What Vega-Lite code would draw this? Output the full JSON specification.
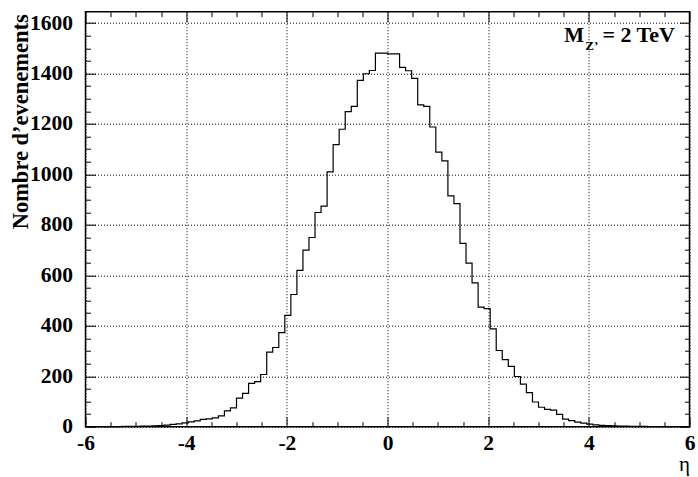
{
  "$schema": "https://vega.github.io/schema/vega-lite/v6.json",
  "width": 604,
  "height": 415,
  "autosize": {"type": "none"},
  "padding": {"left": 85.5, "top": 11.7, "right": 8.5, "bottom": 50.3},
  "background": "white",
  "config": {
    "view": {"stroke": "black", "strokeWidth": 1.5},
    "font": "Liberation Serif",
    "axis": {"tickColor": "black", "tickWidth": 1, "labelColor": "black", "titleColor": "black"}
  },
  "data": {
    "values": [
      {"x": -6.00, "n": 0}, {"x": -5.88, "n": 0}, {"x": -5.76, "n": 0}, {"x": -5.64, "n": 0},
      {"x": -5.52, "n": 0}, {"x": -5.40, "n": 0}, {"x": -5.28, "n": 1}, {"x": -5.16, "n": 1},
      {"x": -5.04, "n": 1}, {"x": -4.92, "n": 2}, {"x": -4.80, "n": 2}, {"x": -4.68, "n": 3},
      {"x": -4.56, "n": 4}, {"x": -4.44, "n": 6}, {"x": -4.32, "n": 9}, {"x": -4.20, "n": 11},
      {"x": -4.08, "n": 15}, {"x": -3.96, "n": 19}, {"x": -3.84, "n": 23}, {"x": -3.72, "n": 29},
      {"x": -3.60, "n": 31}, {"x": -3.48, "n": 35}, {"x": -3.36, "n": 43}, {"x": -3.24, "n": 63},
      {"x": -3.12, "n": 75}, {"x": -3.00, "n": 113}, {"x": -2.88, "n": 132}, {"x": -2.76, "n": 172},
      {"x": -2.64, "n": 179}, {"x": -2.52, "n": 207}, {"x": -2.40, "n": 296}, {"x": -2.28, "n": 314},
      {"x": -2.16, "n": 373}, {"x": -2.04, "n": 441}, {"x": -1.92, "n": 524}, {"x": -1.80, "n": 620},
      {"x": -1.68, "n": 700}, {"x": -1.56, "n": 750}, {"x": -1.44, "n": 849}, {"x": -1.32, "n": 874},
      {"x": -1.20, "n": 1010}, {"x": -1.08, "n": 1118}, {"x": -0.96, "n": 1179}, {"x": -0.84, "n": 1249},
      {"x": -0.72, "n": 1270}, {"x": -0.60, "n": 1373}, {"x": -0.48, "n": 1399}, {"x": -0.36, "n": 1412},
      {"x": -0.24, "n": 1481}, {"x": -0.12, "n": 1481}, {"x": 0.00, "n": 1478}, {"x": 0.12, "n": 1478},
      {"x": 0.24, "n": 1424}, {"x": 0.36, "n": 1411}, {"x": 0.48, "n": 1381}, {"x": 0.60, "n": 1276},
      {"x": 0.72, "n": 1270}, {"x": 0.84, "n": 1188}, {"x": 0.96, "n": 1088}, {"x": 1.08, "n": 1054},
      {"x": 1.20, "n": 915}, {"x": 1.32, "n": 884}, {"x": 1.44, "n": 727}, {"x": 1.56, "n": 648},
      {"x": 1.68, "n": 570}, {"x": 1.80, "n": 474}, {"x": 1.92, "n": 468}, {"x": 2.04, "n": 388},
      {"x": 2.16, "n": 302}, {"x": 2.28, "n": 266}, {"x": 2.40, "n": 239}, {"x": 2.52, "n": 199},
      {"x": 2.64, "n": 169}, {"x": 2.76, "n": 135}, {"x": 2.88, "n": 98}, {"x": 3.00, "n": 77},
      {"x": 3.12, "n": 69}, {"x": 3.24, "n": 66}, {"x": 3.36, "n": 49}, {"x": 3.48, "n": 30},
      {"x": 3.60, "n": 24}, {"x": 3.72, "n": 18}, {"x": 3.84, "n": 14}, {"x": 3.96, "n": 10},
      {"x": 4.08, "n": 7}, {"x": 4.20, "n": 5}, {"x": 4.32, "n": 4}, {"x": 4.44, "n": 3},
      {"x": 4.56, "n": 2}, {"x": 4.68, "n": 2}, {"x": 4.80, "n": 1}, {"x": 4.92, "n": 1},
      {"x": 5.04, "n": 1}, {"x": 5.16, "n": 0}, {"x": 5.28, "n": 0}, {"x": 5.40, "n": 0},
      {"x": 5.52, "n": 0}, {"x": 5.64, "n": 0}, {"x": 5.76, "n": 0}, {"x": 5.88, "n": 0},
      {"x": 6.00, "n": 0}
    ]
  },
  "resolve": {"axis": {"x": "independent", "y": "independent"}},
  "layer": [
    {
      "mark": {"type": "line", "interpolate": "step-after", "color": "black", "strokeWidth": 1.2},
      "encoding": {
        "x": {
          "field": "x", "type": "quantitative",
          "scale": {"domain": [-6, 6], "nice": false, "zero": false},
          "axis": {
            "orient": "bottom", "values": [-6, -4, -2, 0, 2, 4, 6],
            "ticks": false, "domain": false,
            "grid": true, "gridColor": "black", "gridDash": [1, 2], "gridWidth": 1, "gridOpacity": 1,
            "labelFont": "Liberation Serif", "labelFontWeight": "bold", "labelFontSize": 21.5,
            "labelPadding": 6, "labelFlush": false, "labelOverlap": false,
            "labelExpr": "'' + datum.value",
            "title": "η", "titleFont": "Liberation Serif", "titleFontWeight": "normal", "titleFontSize": 21,
            "titleAnchor": "end", "titleAlign": "right", "titleBaseline": "alphabetic",
            "titleX": 604, "titleY": 44
          }
        },
        "y": {
          "field": "n", "type": "quantitative",
          "scale": {"domain": [0, 1645], "nice": false, "zero": true},
          "axis": {
            "orient": "left", "values": [0, 200, 400, 600, 800, 1000, 1200, 1400, 1600],
            "ticks": false, "domain": false,
            "grid": true, "gridColor": "black", "gridDash": [1, 2], "gridWidth": 1, "gridOpacity": 1,
            "labelFont": "Liberation Serif", "labelFontWeight": "bold", "labelFontSize": 21.5,
            "labelPadding": 13, "labelFlush": false, "labelOverlap": false,
            "labelExpr": "'' + datum.value",
            "title": "Nombre d’evenements", "titleFont": "Liberation Serif", "titleFontWeight": "bold", "titleFontSize": 22.5,
            "titleAngle": -90, "titleAnchor": "end", "titleAlign": "right", "titleBaseline": "alphabetic",
            "titleX": -58, "titleY": 2
          }
        }
      }
    },
    {
      "mark": {"type": "point", "opacity": 0},
      "encoding": {
        "x": {"field": "x", "type": "quantitative",
          "axis": {"orient": "bottom", "values": [-6, -4, -2, 0, 2, 4, 6], "tickSize": -10, "labels": false, "domain": false, "grid": false, "title": null}},
        "y": {"field": "n", "type": "quantitative",
          "axis": {"orient": "left", "values": [0, 200, 400, 600, 800, 1000, 1200, 1400, 1600], "tickSize": -10, "labels": false, "domain": false, "grid": false, "title": null}}
      }
    },
    {
      "mark": {"type": "point", "opacity": 0},
      "encoding": {
        "x": {"field": "x", "type": "quantitative",
          "axis": {"orient": "bottom", "values": [-5.5, -5, -4.5, -3.5, -3, -2.5, -1.5, -1, -0.5, 0.5, 1, 1.5, 2.5, 3, 3.5, 4.5, 5, 5.5], "tickSize": -5, "labels": false, "domain": false, "grid": false, "title": null}},
        "y": {"field": "n", "type": "quantitative",
          "axis": {"orient": "left", "values": [50, 100, 150, 250, 300, 350, 450, 500, 550, 650, 700, 750, 850, 900, 950, 1050, 1100, 1150, 1250, 1300, 1350, 1450, 1500, 1550], "tickSize": -5, "labels": false, "domain": false, "grid": false, "title": null}}
      }
    },
    {
      "mark": {"type": "point", "opacity": 0},
      "encoding": {
        "x": {"field": "x", "type": "quantitative",
          "axis": {"orient": "top", "values": [-6, -4, -2, 0, 2, 4, 6], "tickSize": -10, "labels": false, "domain": false, "grid": false, "title": null}},
        "y": {"field": "n", "type": "quantitative",
          "axis": {"orient": "right", "values": [0, 200, 400, 600, 800, 1000, 1200, 1400, 1600], "tickSize": -10, "labels": false, "domain": false, "grid": false, "title": null}}
      }
    },
    {
      "mark": {"type": "point", "opacity": 0},
      "encoding": {
        "x": {"field": "x", "type": "quantitative",
          "axis": {"orient": "top", "values": [-5.5, -5, -4.5, -3.5, -3, -2.5, -1.5, -1, -0.5, 0.5, 1, 1.5, 2.5, 3, 3.5, 4.5, 5, 5.5], "tickSize": -5, "labels": false, "domain": false, "grid": false, "title": null}},
        "y": {"field": "n", "type": "quantitative",
          "axis": {"orient": "right", "values": [50, 100, 150, 250, 300, 350, 450, 500, 550, 650, 700, 750, 850, 900, 950, 1050, 1100, 1150, 1250, 1300, 1350, 1450, 1500, 1550], "tickSize": -5, "labels": false, "domain": false, "grid": false, "title": null}}
      }
    },
    {
      "data": {"values": [{"t": "M"}]},
      "mark": {"type": "text", "align": "left", "baseline": "alphabetic", "font": "Liberation Serif", "fontWeight": "bold", "fontSize": 21, "color": "black"},
      "encoding": {
        "x": {"datum": 3.513, "type": "quantitative", "axis": null},
        "y": {"datum": 1525, "type": "quantitative", "axis": null},
        "text": {"field": "t"}
      }
    },
    {
      "data": {"values": [{"t": "Z’"}]},
      "mark": {"type": "text", "align": "left", "baseline": "alphabetic", "font": "Liberation Serif", "fontWeight": "bold", "fontSize": 13, "color": "black"},
      "encoding": {
        "x": {"datum": 3.93, "type": "quantitative", "axis": null},
        "y": {"datum": 1492, "type": "quantitative", "axis": null},
        "text": {"field": "t"}
      }
    },
    {
      "data": {"values": [{"t": "= 2 TeV"}]},
      "mark": {"type": "text", "align": "left", "baseline": "alphabetic", "font": "Liberation Serif", "fontWeight": "bold", "fontSize": 22, "color": "black"},
      "encoding": {
        "x": {"datum": 4.27, "type": "quantitative", "axis": null},
        "y": {"datum": 1525, "type": "quantitative", "axis": null},
        "text": {"field": "t"}
      }
    }
  ]
}
